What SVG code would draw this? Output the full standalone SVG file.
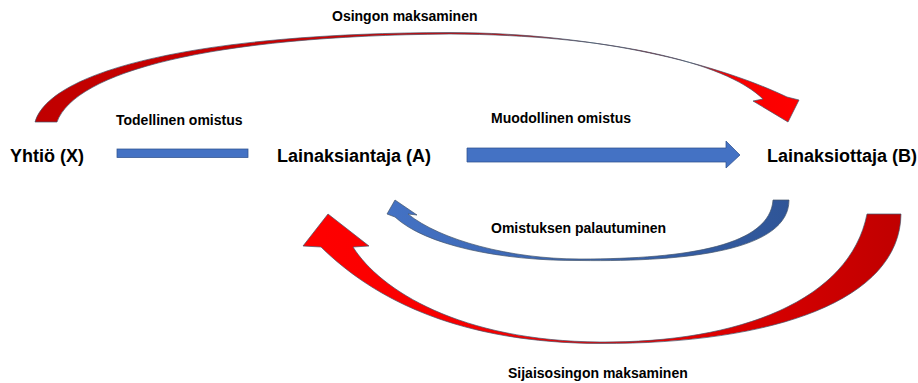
<svg xmlns="http://www.w3.org/2000/svg" width="918" height="383" viewBox="0 0 918 383">
<defs>
<linearGradient id="gTop" x1="35" y1="0" x2="800" y2="0" gradientUnits="userSpaceOnUse">
<stop offset="0" stop-color="#C00000"/>
<stop offset="0.45" stop-color="#D00000"/>
<stop offset="1" stop-color="#FF0000"/>
</linearGradient>
<linearGradient id="gLow" x1="303" y1="0" x2="901" y2="0" gradientUnits="userSpaceOnUse">
<stop offset="0" stop-color="#FF0000"/>
<stop offset="0.5" stop-color="#F00000"/>
<stop offset="1" stop-color="#C00000"/>
</linearGradient>
<linearGradient id="gBlue" x1="386" y1="0" x2="789" y2="0" gradientUnits="userSpaceOnUse">
<stop offset="0" stop-color="#4472C4"/>
<stop offset="1" stop-color="#2F5597"/>
</linearGradient>
<style>
.lbl{font-family:"Liberation Sans",Arial,sans-serif;font-weight:bold;fill:#000}
.big{font-size:18px}
.small{font-size:14px}
.edge{stroke:#44546A;stroke-width:0.7;stroke-linejoin:miter}
.blue{fill:#4472C4;stroke:#2F528F;stroke-width:0.75}
</style>
</defs>
<rect width="918" height="383" fill="#fff"/>

<g id="connectors">
<g id="osinko">
<path class="edge" fill="url(#gTop)" d="M35,122 C50,70 200,33 450,32.5 C600,33 720,65 787,97 L799,100 L788,122 L753,101 L763,99 C725,62 610,35 450,34 C210,36 75,72 57,122 Z"/>
<text class="lbl small" x="332" y="21">Osingon maksaminen</text>
</g>
<g id="todellinen">
<rect class="blue" x="117" y="149" width="131" height="8.5"/>
<text class="lbl small" x="116" y="125">Todellinen omistus</text>
</g>
<g id="muodollinen">
<polygon class="blue" points="467,148 726,148 726,141 740,155 726,168 726,162 467,162"/>
<text class="lbl small" x="491" y="123">Muodollinen omistus</text>
</g>
<g id="palautuminen">
<path class="edge" fill="url(#gBlue)" d="M789,200 C789,250 690,262 580,260.5 C500,261 425,245 395,217 L387,214 L395,200 L417,215 L408,214 C440,240 510,259 580,259 C690,259 770,245 773,200 Z"/>
<text class="lbl small" x="491" y="233">Omistuksen palautuminen</text>
</g>
<g id="sijaisosinko">
<path class="edge" fill="url(#gLow)" d="M901,214 C900,300 775,344 600,343.5 C460,343 375,300 321,247 L303,246 L328,214 L369,246 L353,247 C380,290 460,341 600,342 C740,343 850,300 867,214 Z"/>
<text class="lbl small" x="508" y="378">Sijaisosingon maksaminen</text>
</g>
</g>

<g id="yhtio">
<text class="lbl big" x="10" y="161.5">Yhtiö (X)</text>
</g>
<g id="lainaksiantaja">
<text class="lbl big" x="277" y="161.5">Lainaksiantaja (A)</text>
</g>
<g id="lainaksiottaja">
<text class="lbl big" x="767" y="161.5">Lainaksiottaja (B)</text>
</g>
</svg>
